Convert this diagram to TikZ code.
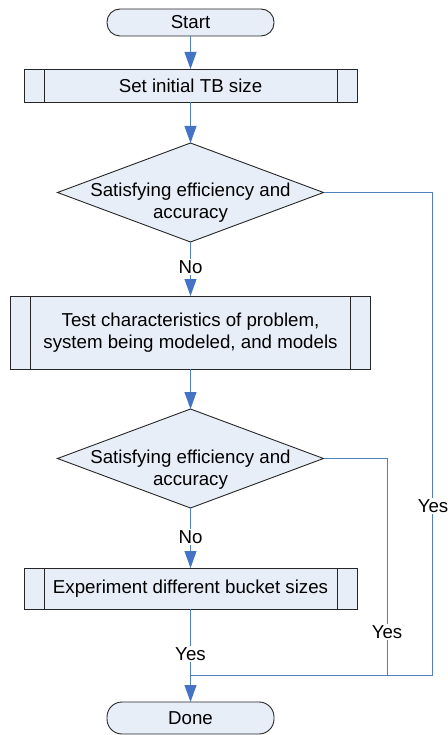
\documentclass[tikz,border=0pt]{standalone}
\usepackage{fontspec}
\setmainfont{Liberation Sans}
\usetikzlibrary{shapes.geometric,arrows.meta}
\definecolor{boxfill}{RGB}{232,238,248}
\definecolor{lineblue}{RGB}{79,129,189}
\definecolor{tipblue}{RGB}{68,114,196}
\tikzset{
  base/.style={draw=black!85, line width=0.9pt, fill=boxfill, inner sep=0pt, outer sep=0pt},
  terminal/.style={base, rectangle, rounded corners=13pt, minimum width=167pt},
  procbox/.style={base, rectangle},
  decision/.style={base, diamond, minimum width=266pt, minimum height=99pt},
  txt/.style={align=center, inner sep=0pt},
  conn/.style={draw=lineblue, line width=0.9pt},
  flow/.style={conn, -{Triangle[width=12pt,length=17pt,color=tipblue]}},
  lbl/.style={fill=white, inner sep=1.5pt}
}
\newcommand{\subbars}[1]{%
  \draw[black!85, line width=0.9pt] ([xshift=20pt]#1.north west) -- ([xshift=20pt]#1.south west);
  \draw[black!85, line width=0.9pt] ([xshift=-20pt]#1.north east) -- ([xshift=-20pt]#1.south east);}
\begin{document}
\begin{tikzpicture}[x=1pt, y=-1pt, font=\fontsize{18.7}{22}\selectfont]
\useasboundingbox (0,0) rectangle (447,735);

% terminals, processes and decisions
\node[terminal, minimum height=27pt] (start) at (190.5,22.5) {Start};
\node[procbox, minimum width=333pt, minimum height=33pt] (init) at (190.5,85.5) {Set initial TB size};
\node[decision] (dec1) at (190.5,192.5) {};
\node[txt] (dec1t) at (190.5,203) {Satisfying efficiency and\\accuracy};
\node[procbox, minimum width=360pt, minimum height=73pt] (test) at (190.5,332.5) {};
\node[txt] (testt) at (190.5,332.5) {Test characteristics of problem,\\system being modeled, and models};
\node[decision] (dec2) at (190.5,458.5) {};
\node[txt] (dec2t) at (190.5,470) {Satisfying efficiency and\\accuracy};
\node[procbox, minimum width=333pt, minimum height=41pt] (exp) at (190.5,588.5) {Experiment different bucket sizes};
\node[terminal, minimum height=32pt, rounded corners=15pt] (done) at (190.5,718) {Done};

\subbars{init}
\subbars{test}
\subbars{exp}

% junction points of the return lines
\coordinate (merge) at (190.5,675);
\coordinate (farright) at (432,675);
\coordinate (nearright) at (387,675);

% connectors
\draw[flow] (start) -- (init);
\draw[flow] (init) -- (dec1);
\draw[flow] (dec1) -- (test);
\draw[flow] (test) -- (dec2);
\draw[flow] (dec2) -- (exp);
\draw[flow] (exp) -- (done);
\draw[conn] (dec1.east) -| (farright) -- (merge);
\draw[conn] (dec2.east) -| (nearright) -- (merge);

% branch labels
\node[lbl] (no1) at (190.5,267) {No};
\node[lbl] (no2) at (190.5,537) {No};
\node[lbl] (yes1) at (433,506) {Yes};
\node[lbl] (yes2) at (387,632) {Yes};
\node[lbl] (yes3) at (190.5,654) {Yes};
\end{tikzpicture}
\end{document}
